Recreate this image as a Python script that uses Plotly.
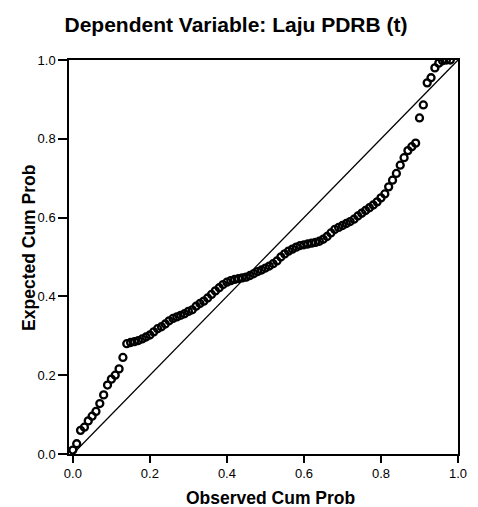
import plotly.graph_objects as go

# Normal P-P plot of regression standardized residual
observed_cum_prob = [
    0.00, 0.01, 0.02, 0.03, 0.04, 0.05, 0.06, 0.07, 0.08, 0.09,
    0.10, 0.11, 0.12, 0.13, 0.14, 0.15, 0.16, 0.17, 0.18, 0.19,
    0.20, 0.21, 0.22, 0.23, 0.24, 0.25, 0.26, 0.27, 0.28, 0.29,
    0.30, 0.31, 0.32, 0.33, 0.34, 0.35, 0.36, 0.37, 0.38, 0.39,
    0.40, 0.41, 0.42, 0.43, 0.44, 0.45, 0.46, 0.47, 0.48, 0.49,
    0.50, 0.51, 0.52, 0.53, 0.54, 0.55, 0.56, 0.57, 0.58, 0.59,
    0.60, 0.61, 0.62, 0.63, 0.64, 0.65, 0.66, 0.67, 0.68, 0.69,
    0.70, 0.71, 0.72, 0.73, 0.74, 0.75, 0.76, 0.77, 0.78, 0.79,
    0.80, 0.81, 0.82, 0.83, 0.84, 0.85, 0.86, 0.87, 0.88, 0.89,
    0.90, 0.91, 0.92, 0.93, 0.94, 0.95, 0.96, 0.97, 0.98,
]
expected_cum_prob = [
    0.010, 0.026, 0.060, 0.068, 0.084, 0.096, 0.108, 0.128, 0.150, 0.175,
    0.190, 0.200, 0.216, 0.245, 0.280, 0.283, 0.285, 0.288, 0.292, 0.297,
    0.302, 0.310, 0.318, 0.323, 0.330, 0.338, 0.344, 0.348, 0.352, 0.356,
    0.362, 0.366, 0.375, 0.382, 0.388, 0.396, 0.405, 0.414, 0.422, 0.430,
    0.436, 0.440, 0.443, 0.445, 0.447, 0.449, 0.453, 0.458, 0.463, 0.467,
    0.472, 0.477, 0.483, 0.490, 0.500, 0.508, 0.515, 0.520, 0.525, 0.529,
    0.531, 0.533, 0.535, 0.537, 0.540, 0.545, 0.552, 0.561, 0.570, 0.575,
    0.580, 0.585, 0.590, 0.596, 0.604, 0.611, 0.618, 0.625, 0.632, 0.640,
    0.650, 0.660, 0.678, 0.695, 0.712, 0.733, 0.752, 0.770, 0.780, 0.789,
    0.853, 0.886, 0.942, 0.955, 0.980, 0.992, 0.998, 1.000, 1.000,
]
ref_line = [0.0, 1.0]
tick_vals = [0.0, 0.2, 0.4, 0.6, 0.8, 1.0]

font = "Arial, Liberation Sans, sans-serif"

# the page puts the figure 8px in from the top-left corner
W, H = 470, 499

fig = go.Figure()
fig.add_trace(go.Scatter(
    x=ref_line, y=ref_line, mode="lines",
    line=dict(color="black", width=1.3), hoverinfo="skip",
))
fig.add_trace(go.Scatter(
    x=observed_cum_prob, y=expected_cum_prob, mode="markers",
    marker=dict(symbol="circle-open", size=7, color="black",
                line=dict(color="black", width=2.3)),
))

axis_common = dict(
    showgrid=False, zeroline=False, showline=True, linecolor="black",
    linewidth=1.5, mirror=True, ticks="outside", tickcolor="black",
    tickwidth=1.5, tickvals=tick_vals, tickformat=".1f",
    tickfont=dict(family=font, size=13, color="black"),
)
fig.update_xaxes(range=[-0.01, 1.0], ticklen=7, **axis_common)
fig.update_yaxes(range=[0.0, 1.0], ticklen=9, **axis_common)

fig.update_layout(
    width=W, height=H,
    margin=dict(l=61, r=11, t=52, b=53),
    plot_bgcolor="white", paper_bgcolor="white",
    showlegend=False,
    title=dict(text="<b>Dependent Variable: Laju PDRB (t)</b>",
               font=dict(family=font, size=21, color="black"),
               x=228 / W, xref="container", xanchor="center",
               y=1 - 17 / H, yref="container", yanchor="middle"),
    annotations=[
        dict(text="<b>Observed Cum Prob</b>", xref="paper", yref="paper",
             x=(275 - 69) / 398, y=-0.112, showarrow=False,
             font=dict(family=font, size=17.5, color="black"),
             xanchor="center", yanchor="middle"),
        dict(text="<b>Expected Cum Prob</b>", xref="paper", yref="paper",
             x=-0.103, y=(454 - 248) / 394, showarrow=False, textangle=-90,
             font=dict(family=font, size=17.5, color="black"),
             xanchor="center", yanchor="middle"),
    ],
)

fig.write_html("out.html")
